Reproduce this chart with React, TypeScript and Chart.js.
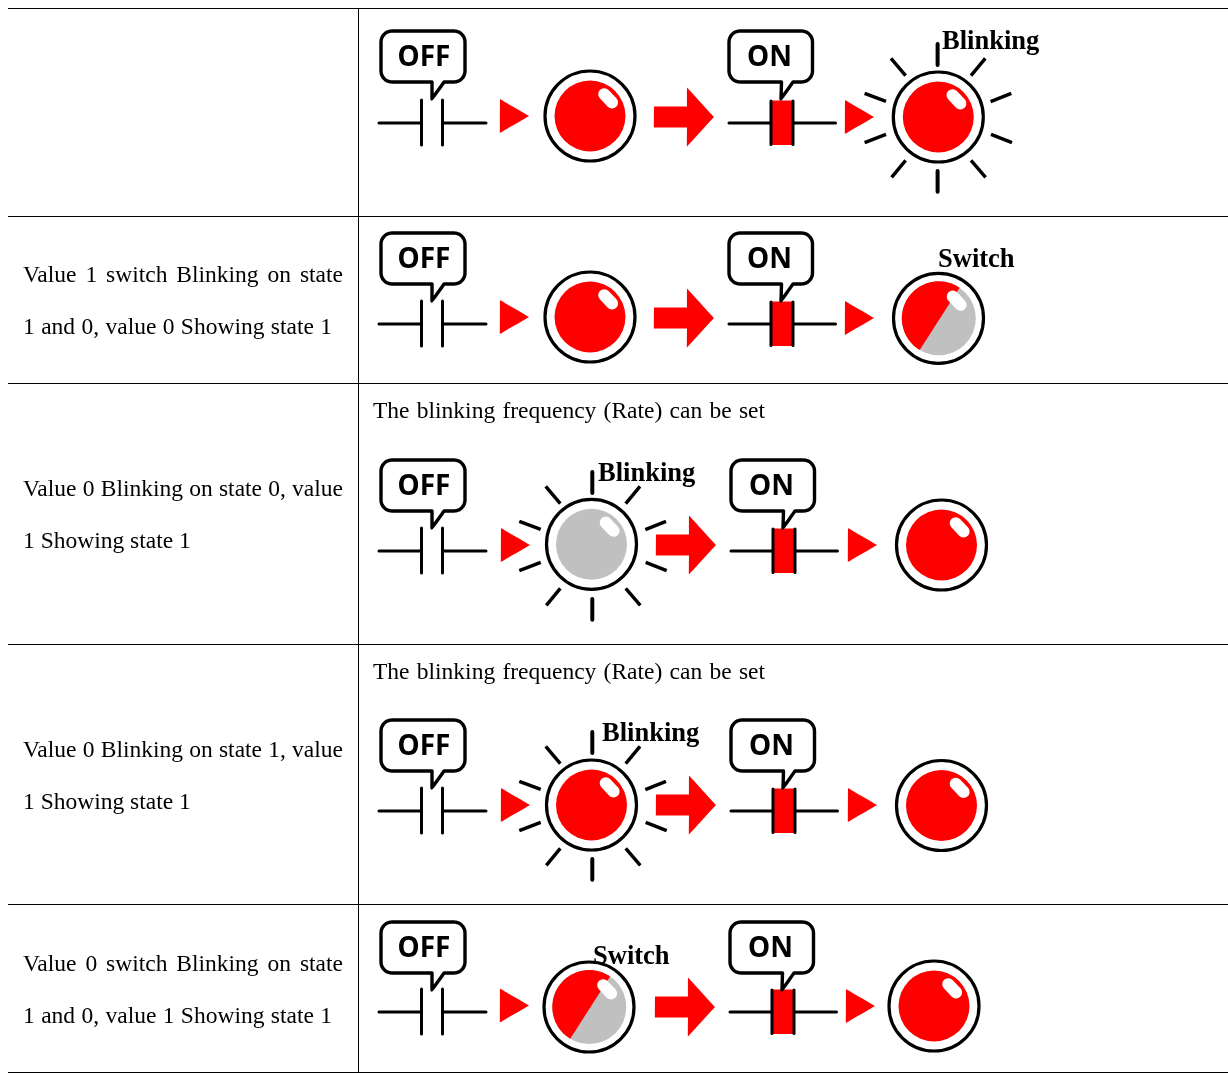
import React, { useEffect, useRef } from "react";
import { Chart, registerables } from "chart.js";

Chart.register(...registerables);

const WIDTH = 1228;
const HEIGHT = 1073;
const RED = "#ff0000";
const GRAY = "#c0c0c0";

// table rules
const ruleYs = [8, 216, 383, 644, 904, 1072];
const ruleLeft = 8;
const ruleDivider = 358.5;

// per-row icon anchors
const contactY = [123, 324, 551, 811, 1012];
const bubbleY = [30, 232, 459, 719, 921];
const onShift = [0, 0, 2, 2, 1];
const tri1X = [500, 500, 501, 501, 500];
const tri1Y = [116, 317, 545, 805, 1005.5];
const lamp1X = [590, 590, 591.5, 591.5, 589];
const lamp1Y = [116, 317, 544.3, 805, 1007];
const lamp1Kind = ["red", "red", "blinkGray", "blinkRed", "switch"];
const lamp1RayDx = [0, 0, 1.5, 1.5, 0];
const arrowX = [654, 654, 656, 656, 655];
const arrowY = [117, 318, 545, 805, 1007];
const tri2X = [845, 845, 848, 848, 846];
const tri2Y = [117, 318, 545, 805, 1006];
const lamp2X = [938.3, 938.5, 941.5, 941.5, 934];
const lamp2Y = [117, 318.3, 545, 805.5, 1006];
const lamp2Kind = ["blinkRed", "switch", "red", "red", "red"];

// shapes relative to their anchor
const triangleShape = [[0, -17], [29, 0], [0, 17], [0, -17]];
const arrowShape = [[0, -10.5], [33, -10.5], [33, -29.5], [60, 0], [33, 29.5], [33, 10.5], [0, 10.5], [0, -10.5]];
const rayOffsets = [
  [-0.7, -73, -0.7, -52], [-0.7, 54, -0.7, 74.7],
  [-47.3, -58.7, -32.7, -41.3], [47, -58.7, 32.7, -41.3],
  [-73.7, -23.7, -52.3, -15.7], [73, -23.7, 52.3, -15.3],
  [-73.7, 25.7, -52.3, 17.3], [73.7, 25.7, 52.7, 17.3],
  [-46.7, 60.3, -32.7, 43.3], [47.3, 60.3, 32.7, 43.3],
];
const capsule = [[14.2, -21.8], [22.1, -13.5]];
const wedgeStartDeg = -55.7;
const wedgeEndDeg = -239.3;

// texts: [text, x, baseline y, justified width]
const bodyLines: [string, number, number, number][] = [
  ["Value 1 switch Blinking on state", 23, 282, 320],
  ["1 and 0, value 0 Showing state 1", 23, 334, 309],
  ["Value 0 Blinking on state 0, value", 23, 496, 320],
  ["1 Showing state 1", 23, 548, 0],
  ["Value 0 Blinking on state 1, value", 23, 757, 320],
  ["1 Showing state 1", 23, 809, 0],
  ["Value 0 switch Blinking on state", 23, 971, 320],
  ["1 and 0, value 1 Showing state 1", 23, 1023, 309],
  ["The blinking frequency (Rate) can be set", 373, 418, 392],
  ["The blinking frequency (Rate) can be set", 373, 679, 392],
];
const lampLabels: [string, number, number][] = [
  ["Blinking", 942, 49],
  ["Switch", 938, 267],
  ["Blinking", 598, 481],
  ["Blinking", 602, 740.5],
  ["Switch", 593, 964],
];
const offLabelX = 424;
const onLabelX = 769.5;
const labelDy = 28;

type P = { x: number; y: number };
const pts = (arr: number[][], ox = 0, oy = 0): P[] => arr.map(([x, y]) => ({ x: x + ox, y: y + oy }));

function arc(cx: number, cy: number, r: number, a0: number, a1: number, steps: number): P[] {
  const out: P[] = [];
  for (let i = 0; i <= steps; i++) {
    const a = ((a0 + ((a1 - a0) * i) / steps) * Math.PI) / 180;
    out.push({ x: cx + r * Math.cos(a), y: cy + r * Math.sin(a) });
  }
  return out;
}

function bubble(x0: number, x1: number, y0: number, y1: number, t0: number, tipX: number, t1: number): P[] {
  const r = 11;
  return [
    ...arc(x0 + r, y0 + r, r, 180, 270, 8),
    ...arc(x1 - r, y0 + r, r, 270, 360, 8),
    ...arc(x1 - r, y1 - r, r, 0, 90, 8),
    { x: t1, y: y1 },
    { x: tipX, y: y1 + 17 },
    { x: t0, y: y1 },
    ...arc(x0 + r, y1 - r, r, 90, 180, 8),
    { x: x0, y: y0 + r },
  ];
}

// a tiny tension keeps Chart.js off its per-pixel "fast path", which distorts near-vertical outlines
const PATH_TENSION = 0.0001;

function buildDatasets() {
  const ds: any[] = [];
  const line = (data: P[], color: string, width: number, cap = "round") =>
    ds.push({ data, showLine: true, borderColor: color, borderWidth: width, borderCapStyle: cap, borderJoinStyle: "round", pointRadius: 0, fill: false, tension: data.length > 2 ? PATH_TENSION : 0, capBezierPoints: false, clip: false });
  const poly = (data: P[], color: string) =>
    ds.push({ data, showLine: true, borderColor: color, borderWidth: 0, backgroundColor: color, pointRadius: 0, fill: "shape", tension: PATH_TENSION, capBezierPoints: false, clip: false });
  const disc = (x: number, y: number, r: number, fillc: string, stroke: string, w: number) =>
    ds.push({ data: [{ x, y }], showLine: false, pointStyle: "circle", pointRadius: r, pointBackgroundColor: fillc, pointBorderColor: stroke, pointBorderWidth: w, clip: false });

  ruleYs.forEach((y) => line([{ x: ruleLeft, y: y + 0.5 }, { x: WIDTH, y: y + 0.5 }], "#000000", 1, "butt"));
  line([{ x: ruleDivider, y: ruleYs[0] }, { x: ruleDivider, y: HEIGHT }], "#000000", 1, "butt");

  const lamp = (cx: number, cy: number, kind: string, rayDx = 0) => {
    if (kind.startsWith("blink")) {
      const ry = Math.round(cy + 0.4);
      rayOffsets.forEach(([a, b, c, d], i) =>
        line([{ x: cx + rayDx + a, y: ry + b }, { x: cx + rayDx + c, y: ry + d }], "#000000", i < 2 ? 4 : 3.4, "butt"));
    }
    disc(cx, cy, 45, "#ffffff", "#000000", 3.2);
    if (kind === "switch") {
      disc(cx + 0.3, cy, 37, GRAY, GRAY, 0);
      poly([...arc(cx + 0.3, cy, 37, wedgeStartDeg, wedgeEndDeg, 60), arc(cx + 0.3, cy, 37, wedgeStartDeg, wedgeStartDeg, 1)[0]], RED);
    } else {
      disc(cx, cy, 35.5, kind === "blinkGray" ? GRAY : RED, RED, 0);
    }
    line(pts(capsule, cx, cy), "#ffffff", 12);
  };

  contactY.forEach((cy, i) => {
    const by = bubbleY[i];
    const s = onShift[i];
    // OFF contact
    line([{ x: 379, y: cy }, { x: 421, y: cy }], "#000000", 3);
    line([{ x: 443, y: cy }, { x: 486, y: cy }], "#000000", 3);
    line([{ x: 421.5, y: cy - 23 }, { x: 421.5, y: cy + 22 }], "#000000", 3);
    line([{ x: 442.5, y: cy - 23 }, { x: 442.5, y: cy + 22 }], "#000000", 3);
    line(bubble(381, 465, by + 1, by + 52, 432, 432, 444), "#000000", 3.4);
    // first triangle, lamp and arrow
    poly(pts(triangleShape, tri1X[i], tri1Y[i]), RED);
    lamp(lamp1X[i], lamp1Y[i], lamp1Kind[i], lamp1RayDx[i]);
    poly(pts(arrowShape, arrowX[i], arrowY[i]), RED);
    // ON contact
    line([{ x: 729 + s, y: cy }, { x: 771 + s, y: cy }], "#000000", 3);
    line([{ x: 793 + s, y: cy }, { x: 835.5 + s, y: cy }], "#000000", 3);
    poly(pts([[771, cy - 22.5], [793, cy - 22.5], [793, cy + 22], [771, cy + 22], [771, cy - 22.5]], s, 0), RED);
    line([{ x: 771 + s, y: cy - 22 }, { x: 771 + s, y: cy + 21.5 }], "#000000", 3);
    line([{ x: 793 + s, y: cy - 22 }, { x: 793 + s, y: cy + 21.5 }], "#000000", 3);
    line(bubble(729 + s, 812.5 + s, by + 1, by + 52, 781.5 + s, 781 + s, 793 + s), "#000000", 3.4);
    // second triangle and lamp
    poly(pts(triangleShape, tri2X[i], tri2Y[i]), RED);
    lamp(lamp2X[i], lamp2Y[i], lamp2Kind[i]);
  });
  ds.forEach((d, i) => (d.order = ds.length - i));
  return ds;
}

const textPlugin = {
  id: "tableText",
  afterDatasetsDraw(chart: any) {
    const { ctx, scales } = chart;
    const X = (v: number) => scales.x.getPixelForValue(v);
    const Y = (v: number) => scales.y.getPixelForValue(v);
    ctx.save();
    ctx.fillStyle = "#000000";
    ctx.textBaseline = "alphabetic";
    ctx.textAlign = "left";
    ctx.font = '23.5px "Liberation Serif"';
    bodyLines.forEach(([t, x, y, w]) => {
      const words = t.split(" ");
      const total = words.reduce((a, b) => a + ctx.measureText(b).width, 0);
      const natural = ctx.measureText(t).width;
      const gap = w ? (w - total) / (words.length - 1) : (natural - total) / (words.length - 1);
      let px = X(x);
      words.forEach((word) => {
        ctx.fillText(word, px, Y(y));
        px += ctx.measureText(word).width + gap;
      });
    });
    ctx.font = 'bold 26.5px "Liberation Serif"';
    lampLabels.forEach(([t, x, y]) => ctx.fillText(t, X(x), Y(y)));
    ctx.font = 'bold 28px "Noto Sans"';
    ctx.textAlign = "center";
    ctx.textBaseline = "middle";
    bubbleY.forEach((by, i) => {
      ctx.fillText("OFF", X(offLabelX), Y(by + labelDy));
      ctx.fillText("ON", X(onLabelX + onShift[i]), Y(by + labelDy));
    });
    ctx.restore();
  },
};

export default function App() {
  const ref = useRef<HTMLCanvasElement | null>(null);
  useEffect(() => {
    document.body.style.margin = "0";
    document.body.style.background = "#ffffff";
    const chart = new Chart(ref.current as HTMLCanvasElement, {
      type: "scatter",
      data: { datasets: buildDatasets() },
      plugins: [textPlugin],
      options: {
        animation: false,
        responsive: false,
        events: [],
        layout: { padding: 0, autoPadding: false },
        plugins: { legend: { display: false }, tooltip: { enabled: false } },
        scales: {
          x: { type: "linear", min: 0, max: WIDTH, display: false },
          y: { type: "linear", min: 0, max: HEIGHT, reverse: true, display: false },
        },
      },
    } as any);
    return () => chart.destroy();
  }, []);
  return <canvas ref={ref} width={WIDTH} height={HEIGHT} style={{ display: "block", width: WIDTH, height: HEIGHT }} />;
}
